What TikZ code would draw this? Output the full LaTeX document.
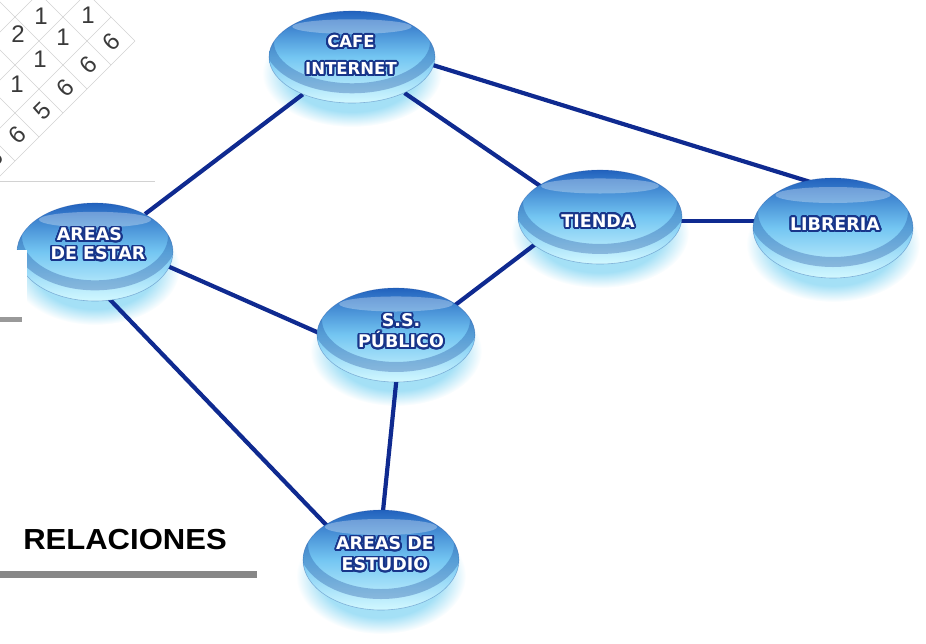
\documentclass[tikz,border=0pt]{standalone}
\usepackage{fontspec}
\setmainfont{Liberation Sans}
\newfontfamily\bubblefont{DejaVu Sans}
\newfontfamily\relfont{Liberation Sans}[FakeStretch=1.07]
\usepackage[copies]{contour}
\usetikzlibrary{shapes.geometric,calc}
\definecolor{linkblue}{HTML}{0F2A90}
\definecolor{txtblue}{HTML}{18358A}
\definecolor{bubtop}{HTML}{2262BE}
\definecolor{bubmid}{HTML}{74C6F2}
\definecolor{bubbot}{HTML}{D2F8FF}
\definecolor{bubrim}{HTML}{1A4A9C}
\definecolor{glowc}{HTML}{A4E0F6}
\definecolor{gridgray}{HTML}{D2D2D2}
\definecolor{numgray}{HTML}{3A3A3A}
\contourlength{1.9pt}
\contournumber{24}
\newcommand{\olt}[1]{\contour{txtblue}{#1}}
\pgfdeclareradialshading{glowshade}{\pgfpoint{0bp}{0bp}}{color(0bp)=(glowc); color(18bp)=(glowc); color(25bp)=(white); color(50bp)=(white)}
\pgfdeclarelayer{glow}
\pgfdeclarelayer{links}
\pgfsetlayers{glow,links,main}
\tikzset{
  bubble/.style={ellipse, inner sep=0pt, top color=bubtop, bottom color=bubbot, middle color=bubmid,
    draw=bubrim, draw opacity=0.35, line width=0.6pt,
    path picture={
      \path let \p1=(path picture bounding box.north east), \p2=(path picture bounding box.south west), \p3=(path picture bounding box.center) in
        [draw=bubrim, draw opacity=0.32, line width=10pt] ($(\p3)+(0,0.16*\y1-0.16*\y2)$) ellipse ({(\x1-\x2)/2} and {(\y1-\y2)/2});
      \path let \p1=(path picture bounding box.north east), \p2=(path picture bounding box.south west), \p3=(path picture bounding box.north) in
        [fill=white, fill opacity=0.3] ($(\p3)+(0,-0.17*\y1+0.17*\y2)$) ellipse ({0.36*(\x1-\x2)} and {0.08*(\y1-\y2)});
    }},
  btext/.style={text=white, align=center, inner sep=0pt, font=\bubblefont\bfseries\fontsize{17.5}{22}\selectfont},
  link/.style={draw=linkblue, line width=4.2pt},
  numtext/.style={text=numgray, inner sep=0pt, font=\fontsize{24}{24}\selectfont},
}
\begin{document}
\begin{tikzpicture}[x=1pt,y=-1pt]
\useasboundingbox (0,0) rectangle (926,643);

% corner matrix
\begin{scope}
  \clip (0,0) rectangle (160,181);
  \foreach \c in {32,80,128,176} {
    \draw[gridgray, line width=0.6pt] ({(\c+94)/2},{(\c-94)/2}) -- ({(\c-220)/2},{(\c+220)/2});
  }
  \foreach \c in {-94,-46,2,50,98,146,194} {
    \draw[gridgray, line width=0.6pt] ({(-60-\c)/2},{(-60+\c)/2}) -- ({(176-\c)/2},{(176+\c)/2});
  }
  \node[numtext] (m1) at (41,16) {1};
  \node[numtext] (m2) at (18,34) {2};
  \node[numtext] (m3) at (88,15) {1};
  \node[numtext] (m4) at (63,37) {1};
  \node[numtext] (m5) at (40,59) {1};
  \node[numtext] (m6) at (17,84) {1};
  \node[numtext, rotate=45] (m7) at (111,42) {6};
  \node[numtext, rotate=45] (m8) at (88,65) {6};
  \node[numtext, rotate=45] (m9) at (65,88) {6};
  \node[numtext, rotate=45] (m10) at (42,111) {5};
  \node[numtext, rotate=45] (m11) at (17,135) {6};
  \node[numtext, rotate=45] (m12) at (-6,158) {6};
\end{scope}
\draw[gridgray, line width=1pt] (0,181) -- (155,181);

% bubbles
\node[bubble, minimum width=166pt, minimum height=92pt] (cafe) at (352,57) {};
\node[bubble, minimum width=156pt, minimum height=98pt] (estar) at (95,252) {};
\node[bubble, minimum width=158pt, minimum height=94pt] (publico) at (396,335) {};
\node[bubble, minimum width=156pt, minimum height=100pt] (estudio) at (381,560) {};
\node[bubble, minimum width=164pt, minimum height=94pt] (tienda) at (600,217) {};
\node[bubble, minimum width=160pt, minimum height=100pt] (libreria) at (833,228) {};

% glows
\begin{pgfonlayer}{glow}
  \foreach \n/\rx/\ry in {cafe/90/54, estar/85/57, publico/86/55, estudio/85/58, tienda/89/55, libreria/87/58} {
    \shade[shading=glowshade] ($(\n)+(0,16)$) ellipse (\rx pt and \ry pt);
  }
\end{pgfonlayer}

% links
\begin{pgfonlayer}{links}
  \draw[link] (cafe) -- (estar);
  \draw[link] (cafe) -- ($(tienda)+(0,10)$);
  \draw[link] ($(cafe)+(0,-17)$) -- ($(libreria)+(0,-39)$);
  \draw[link] ($(tienda)+(0,4)$) -- ($(libreria)+(0,-7)$);
  \draw[link] ($(tienda)+(0,-22)$) -- ($(publico)+(0,15)$);
  \draw[link] ($(estar)+(0,-18)$) -- ($(publico)+(0,32)$);
  \draw[link] ($(estar)+(0,32)$) -- ($(estudio)+(0,22)$);
  \draw[link] ($(publico)+(5,0)$) -- ($(estudio)+(-3,0)$);
\end{pgfonlayer}

% notch and bars
\fill[white] (0,250) rectangle (27,318);
\fill[black!40] (0,317) rectangle (22,322);
\fill[black!47] (0,571) rectangle (257,578);

% bubble texts
\node[btext, font=\bubblefont\bfseries\fontsize{16.5}{27}\selectfont] (cafeT) at (351,56) {\olt{CAFE}\\\olt{INTERNET}};
\node[btext, font=\bubblefont\bfseries\fontsize{17.5}{19}\selectfont] (estarT) at (98,245) {\olt{AREAS}\hspace*{17pt}\\\olt{DE ESTAR}};
\node[btext, font=\bubblefont\bfseries\fontsize{17.5}{21}\selectfont] (publicoT) at (401,332) {\olt{S.S.}\\\olt{PÚBLICO}};
\node[btext, font=\bubblefont\bfseries\fontsize{17.5}{21}\selectfont] (estudioT) at (385,555) {\olt{AREAS DE}\\\olt{ESTUDIO}};
\node[btext] (tiendaT) at (598,222) {\olt{TIENDA}};
\node[btext] (libreriaT) at (835,225) {\olt{LIBRERIA}};

% title
\node[inner sep=0pt, font=\relfont\bfseries\fontsize{29}{29}\selectfont] (rel) at (125,540) {RELACIONES};
\end{tikzpicture}
\end{document}
